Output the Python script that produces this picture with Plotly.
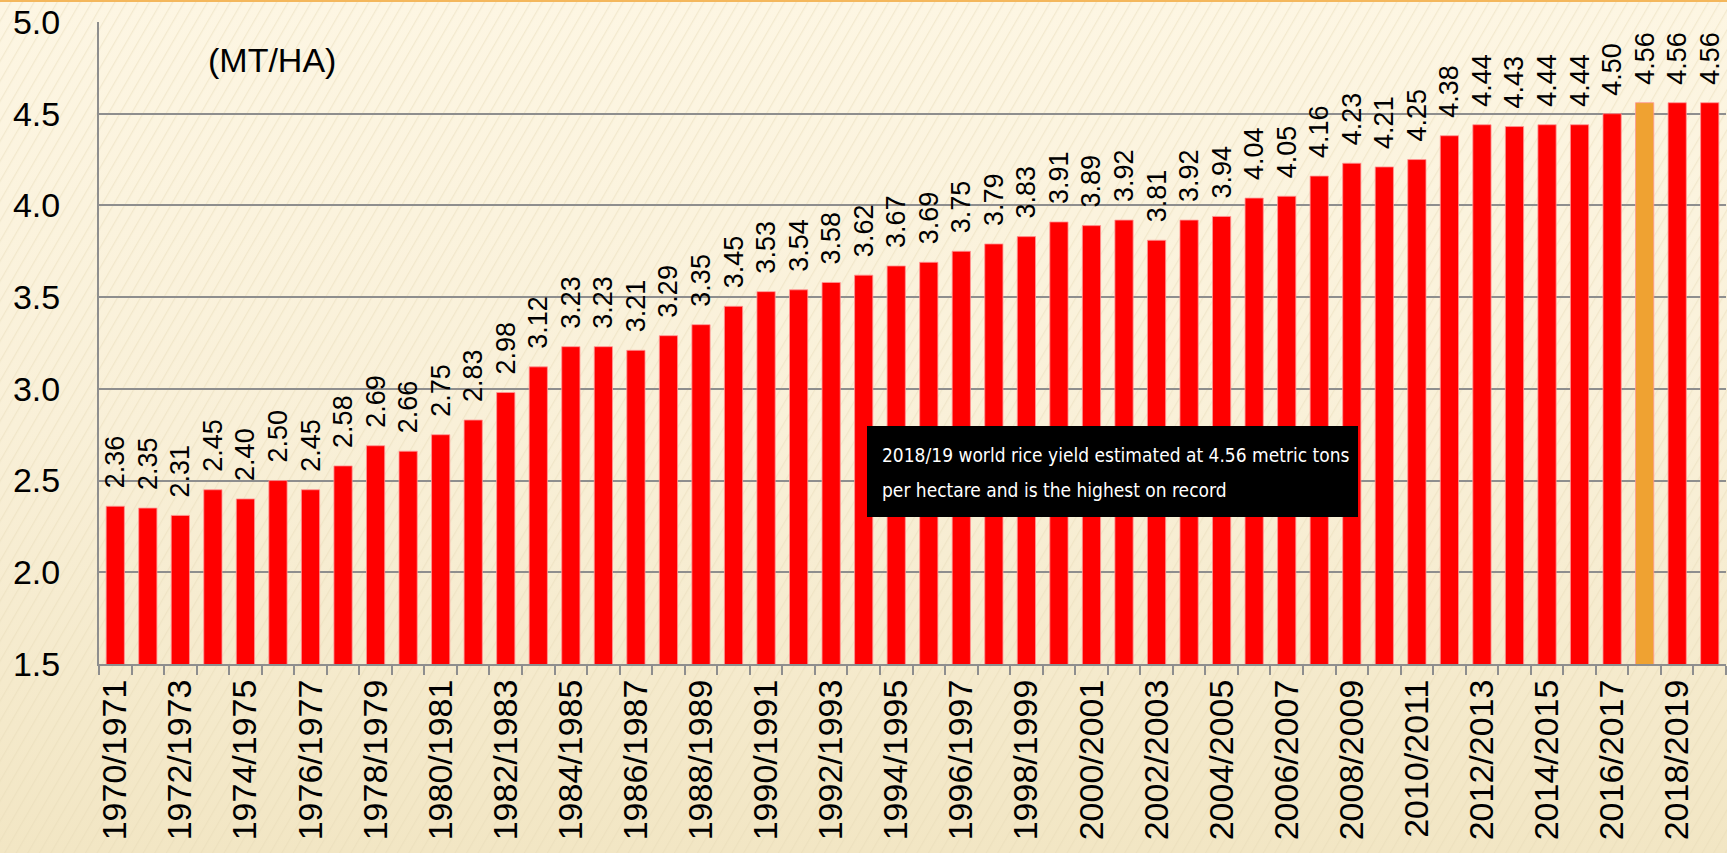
import base64
import plotly.graph_objects as go

# ---- data ----
seasons = [f"{y}/{y+1}" for y in range(1970, 2020)]
yields = [2.36, 2.35, 2.31, 2.45, 2.40, 2.50, 2.45, 2.58, 2.69, 2.66,
          2.75, 2.83, 2.98, 3.12, 3.23, 3.23, 3.21, 3.29, 3.35, 3.45,
          3.53, 3.54, 3.58, 3.62, 3.67, 3.69, 3.75, 3.79, 3.83, 3.91,
          3.89, 3.92, 3.81, 3.92, 3.94, 4.04, 4.05, 4.16, 4.23, 4.21,
          4.25, 4.38, 4.44, 4.43, 4.44, 4.44, 4.50, 4.56, 4.56, 4.56]
highlight_season = "2017/2018"
tick_labels = [s if i % 2 == 0 else "" for i, s in enumerate(seasons)]
unit_label = "(MT/HA)"
note_lines = ["2018/19 world rice yield estimated at 4.56 metric tons",
              "per hectare and is the highest on record"]

RED = "#FF0000"
ORANGE = "#EFA232"
GRID = "#8E8E8E"
FONT = "Liberation Sans, Arial, sans-serif"
NARROW = "Liberation Sans Narrow, DejaVu Sans Condensed, Arial Narrow, Liberation Sans, sans-serif"

W, H = 1727, 853
ML, MR, MT, MB = 99, 1, 22, 189
PW, PH = W - ML - MR, H - MT - MB


def px_x(px):
    return (px - ML) / PW


def px_y(py):
    return (H - MB - py) / PH


colors = [ORANGE if s == highlight_season else RED for s in seasons]
texts = ["\u00a0\u00a0" + f"{v:.2f}" for v in yields]

# background: gradient + faint diagonal stripes + orange top rule
svg = f"""<svg xmlns='http://www.w3.org/2000/svg' width='{W}' height='{H}'>
<defs>
<linearGradient id='g' x1='0' y1='0' x2='0' y2='1'>
<stop offset='0' stop-color='#FDF6E3'/><stop offset='0.5' stop-color='#F9F0D8'/><stop offset='1' stop-color='#F2E6C4'/>
</linearGradient>
<pattern id='p' width='10' height='10' patternUnits='userSpaceOnUse' patternTransform='rotate(30)'>
<line x1='0' y1='0' x2='0' y2='10' stroke='#E6D9B6' stroke-width='2.5' stroke-opacity='0.45'/>
</pattern>
</defs>
<rect width='100%' height='100%' fill='url(#g)'/>
<rect width='100%' height='100%' fill='url(#p)'/>
<rect x='0' y='0' width='{W}' height='2' fill='#F4B75C'/>
</svg>"""
bg_src = "data:image/svg+xml;base64," + base64.b64encode(svg.encode()).decode()

fig = go.Figure()
fig.add_trace(go.Bar(
    x=seasons, y=yields,
    marker=dict(color=colors, line=dict(color="rgba(255,150,150,0.8)", width=1)),
    text=texts, textposition="outside", textangle=-90,
    textfont=dict(family=FONT, size=27, color="black"),
    constraintext="none", cliponaxis=False, hoverinfo="x+y",
))

annotations = [
    dict(text=unit_label, xref="paper", yref="paper",
         x=px_x(272), y=px_y(60),
         xanchor="center", yanchor="middle", showarrow=False,
         font=dict(size=34, family=FONT, color="black")),
]
for i, line in enumerate(note_lines):
    annotations.append(dict(
        text=line, xref="paper", yref="paper",
        x=px_x(880), y=px_y(455 + 35 * i),
        xanchor="left", yanchor="middle", showarrow=False, align="left",
        font=dict(size=19, color="white", family=NARROW)))

fig.update_layout(
    width=W, height=H,
    margin=dict(l=ML, r=MR, t=MT, b=MB),
    paper_bgcolor="#F8EFD6",
    plot_bgcolor="rgba(0,0,0,0)",
    bargap=0.44,
    showlegend=False,
    font=dict(family=FONT, color="black"),
    images=[dict(source=bg_src, xref="paper", yref="paper",
                 x=-ML / PW, y=1 + MT / PH, sizex=W / PW, sizey=H / PH,
                 xanchor="left", yanchor="top", sizing="stretch", layer="below")],
    shapes=[dict(type="rect", xref="paper", yref="paper",
                 x0=px_x(867), x1=px_x(1358), y0=px_y(517), y1=px_y(426),
                 fillcolor="black", line=dict(width=0), layer="above")],
    xaxis=dict(
        type="category", tickmode="array", tickvals=seasons, ticktext=tick_labels,
        tickson="boundaries", ticks="outside", ticklen=9, tickwidth=2, tickcolor=GRID,
        tickangle=-90, tickfont=dict(size=34, family=FONT, color="black"),
        showline=True, linecolor=GRID, linewidth=2, showgrid=False,
    ),
    yaxis=dict(
        range=[1.5, 5.0], tickvals=[1.5, 2.0, 2.5, 3.0, 3.5, 4.0, 4.5, 5.0],
        tickformat=".1f", tickfont=dict(size=34, family=FONT, color="black"),
        ticklabelstandoff=30,
        showgrid=True, gridcolor=GRID, gridwidth=2,
        showline=True, linecolor=GRID, linewidth=2, zeroline=False,
        ticks="",
    ),
    annotations=annotations,
)

fig.write_html("out.html", config={"displayModeBar": False},
               post_script="document.body.style.margin='0';")
